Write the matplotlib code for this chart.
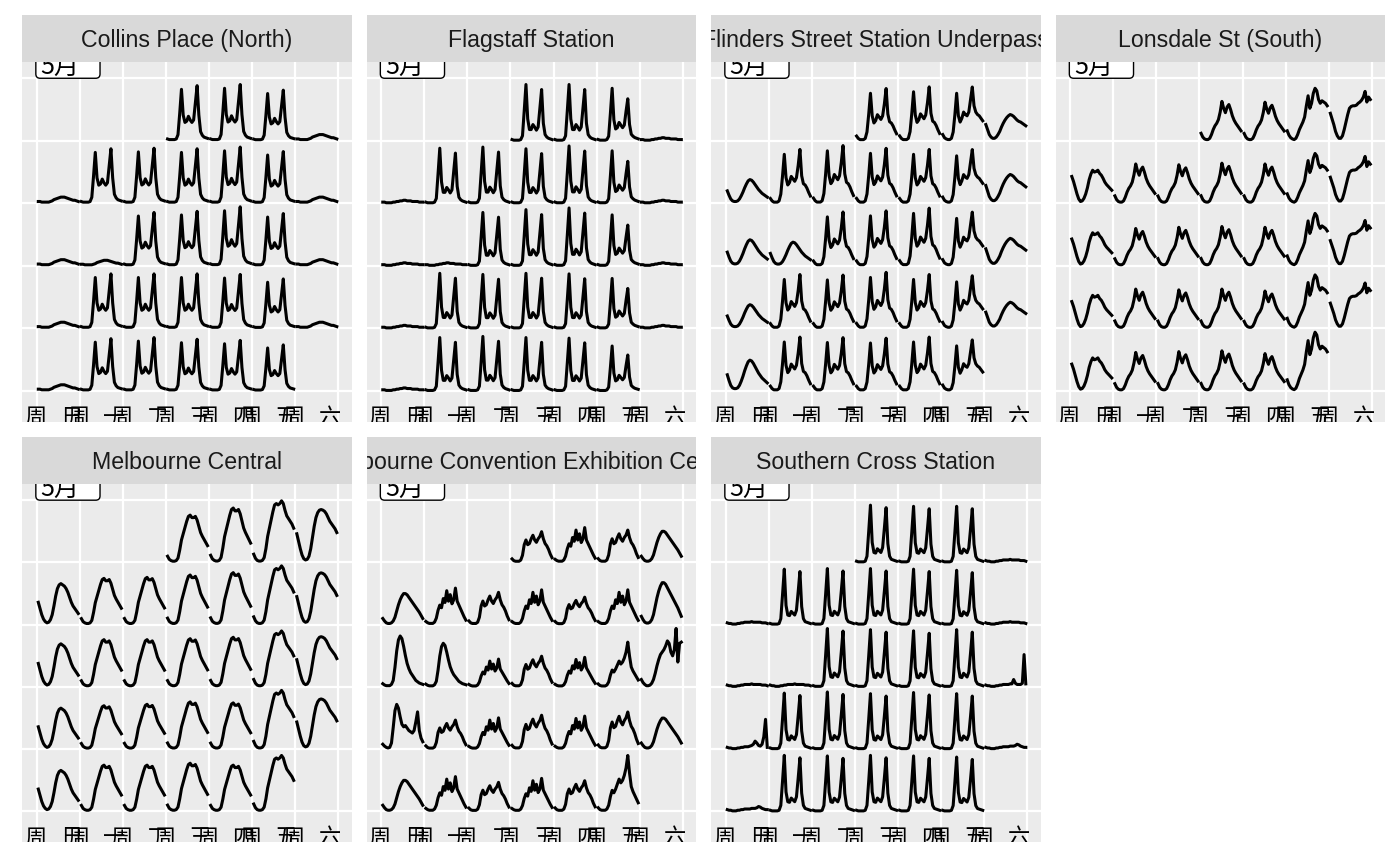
import matplotlib

matplotlib.use("Agg")
import matplotlib.pyplot as plt
import numpy as np
import pandas as pd
from matplotlib.patches import FancyBboxPatch

plt.rcParams["font.family"] = ["Liberation Sans", "Noto Sans CJK SC", "DejaVu Sans"]

# 2019年5月，每天24小时
MAY_DATES = pd.date_range("2019-05-01", "2019-05-31", freq="D")
HOURS = np.arange(24)
WEEKDAY_LABELS = ["周日", "周一", "周二", "周三", "周四", "周五", "周六"]
MONTH_LABEL = "5月"

SENSORS = [
    "Collins Place (North)",
    "Flagstaff Station",
    "Flinders Street Station Underpass",
    "Lonsdale St (South)",
    "Melbourne Central",
    "Melbourne Convention Exhibition Centre",
    "Southern Cross Station",
]

# 每个传感器的小时曲线（相对格子高度）
COLLINS_WORK = [0.03, 0.02, 0.02, 0.02, 0.02, 0.03, 0.10, 0.45, 0.84, 0.42, 0.30, 0.32,
                0.40, 0.34, 0.30, 0.34, 0.62, 0.90, 0.42, 0.15, 0.09, 0.06, 0.05, 0.04]
COLLINS_REST = [0.03, 0.03, 0.02, 0.02, 0.02, 0.02, 0.02, 0.03, 0.04, 0.06, 0.07, 0.08,
                0.09, 0.10, 0.10, 0.10, 0.09, 0.08, 0.07, 0.06, 0.05, 0.05, 0.04, 0.03]

FLAG_WORK = [0.02, 0.01, 0.01, 0.01, 0.01, 0.02, 0.08, 0.48, 0.90, 0.35, 0.18, 0.18,
             0.26, 0.22, 0.17, 0.22, 0.52, 0.82, 0.28, 0.10, 0.06, 0.04, 0.03, 0.02]
FLAG_FRI = [0.02, 0.01, 0.01, 0.01, 0.01, 0.02, 0.07, 0.42, 0.80, 0.32, 0.18, 0.20,
            0.28, 0.24, 0.20, 0.24, 0.45, 0.64, 0.25, 0.10, 0.07, 0.05, 0.04, 0.03]
FLAG_REST = [0.02, 0.02, 0.01, 0.01, 0.01, 0.01, 0.02, 0.02, 0.03, 0.03, 0.04, 0.04,
             0.05, 0.05, 0.04, 0.04, 0.04, 0.03, 0.03, 0.03, 0.03, 0.02, 0.02, 0.02]

FLINDERS_WORK = [0.08, 0.04, 0.02, 0.02, 0.02, 0.04, 0.15, 0.45, 0.80, 0.42, 0.30, 0.34,
                 0.44, 0.40, 0.36, 0.42, 0.62, 0.88, 0.45, 0.32, 0.30, 0.25, 0.18, 0.12]
FLINDERS_FRI = [0.10, 0.05, 0.03, 0.02, 0.02, 0.04, 0.14, 0.42, 0.76, 0.40, 0.30, 0.36,
                0.46, 0.42, 0.40, 0.46, 0.66, 0.86, 0.56, 0.46, 0.42, 0.40, 0.36, 0.32]
FLINDERS_SAT = [0.26, 0.18, 0.10, 0.06, 0.04, 0.04, 0.06, 0.10, 0.15, 0.22, 0.28, 0.33,
                0.37, 0.40, 0.42, 0.41, 0.39, 0.36, 0.33, 0.31, 0.30, 0.28, 0.26, 0.24]
FLINDERS_SUN = [0.20, 0.13, 0.07, 0.04, 0.03, 0.03, 0.04, 0.07, 0.12, 0.18, 0.25, 0.31,
                0.36, 0.38, 0.37, 0.34, 0.30, 0.26, 0.22, 0.19, 0.16, 0.14, 0.12, 0.10]

LONSDALE_WORK = [0.12, 0.06, 0.03, 0.02, 0.02, 0.04, 0.10, 0.18, 0.24, 0.28, 0.34, 0.46,
                 0.63, 0.52, 0.45, 0.54, 0.58, 0.50, 0.40, 0.33, 0.28, 0.24, 0.20, 0.16]
LONSDALE_FRI = [0.16, 0.09, 0.05, 0.03, 0.02, 0.04, 0.10, 0.18, 0.24, 0.30, 0.38, 0.56,
                0.72, 0.52, 0.60, 0.76, 0.84, 0.80, 0.66, 0.60, 0.64, 0.62, 0.60, 0.56]
LONSDALE_SAT = [0.44, 0.35, 0.26, 0.15, 0.08, 0.04, 0.04, 0.08, 0.18, 0.30, 0.42, 0.52,
                0.55, 0.56, 0.56, 0.57, 0.60, 0.62, 0.65, 0.70, 0.79, 0.62, 0.70, 0.66]
LONSDALE_SUN = [0.43, 0.35, 0.25, 0.15, 0.07, 0.03, 0.04, 0.08, 0.15, 0.25, 0.38, 0.47,
                0.53, 0.50, 0.51, 0.53, 0.48, 0.45, 0.40, 0.34, 0.30, 0.27, 0.24, 0.21]

MELB_WORK = [0.10, 0.05, 0.03, 0.02, 0.02, 0.03, 0.07, 0.20, 0.36, 0.46, 0.56, 0.66,
             0.74, 0.76, 0.72, 0.72, 0.74, 0.68, 0.58, 0.48, 0.42, 0.37, 0.32, 0.27]
MELB_FRI = [0.12, 0.06, 0.03, 0.02, 0.02, 0.03, 0.07, 0.20, 0.38, 0.50, 0.62, 0.74,
            0.84, 0.86, 0.84, 0.86, 0.90, 0.86, 0.76, 0.68, 0.64, 0.60, 0.56, 0.50]
MELB_SAT = [0.46, 0.34, 0.22, 0.12, 0.06, 0.04, 0.05, 0.10, 0.22, 0.40, 0.58, 0.72,
            0.80, 0.84, 0.85, 0.84, 0.82, 0.78, 0.72, 0.66, 0.62, 0.58, 0.54, 0.48]
MELB_SUN = [0.36, 0.26, 0.16, 0.09, 0.05, 0.03, 0.04, 0.08, 0.16, 0.30, 0.46, 0.58,
            0.64, 0.66, 0.64, 0.62, 0.58, 0.52, 0.44, 0.36, 0.30, 0.26, 0.22, 0.18]

CONV_WORK = [0.06, 0.03, 0.02, 0.02, 0.02, 0.04, 0.12, 0.30, 0.38, 0.30, 0.32, 0.40,
             0.46, 0.38, 0.34, 0.40, 0.44, 0.52, 0.40, 0.32, 0.28, 0.22, 0.14, 0.08]
CONV_WORK2 = [0.05, 0.03, 0.02, 0.02, 0.02, 0.04, 0.10, 0.22, 0.30, 0.26, 0.40, 0.34,
              0.52, 0.36, 0.46, 0.32, 0.38, 0.56, 0.36, 0.30, 0.24, 0.18, 0.12, 0.07]
CONV_REST = [0.10, 0.06, 0.03, 0.02, 0.02, 0.03, 0.06, 0.12, 0.22, 0.32, 0.40, 0.46,
             0.50, 0.50, 0.48, 0.44, 0.40, 0.36, 0.32, 0.28, 0.24, 0.20, 0.15, 0.10]
CONV_EVENT = [0.05, 0.03, 0.02, 0.02, 0.02, 0.04, 0.10, 0.30, 0.55, 0.72, 0.78, 0.74,
              0.62, 0.48, 0.36, 0.28, 0.22, 0.18, 0.14, 0.10, 0.08, 0.06, 0.05, 0.04]
CONV_SAT_EVENT = [0.12, 0.07, 0.04, 0.02, 0.02, 0.03, 0.06, 0.12, 0.22, 0.34, 0.44, 0.52,
                  0.56, 0.60, 0.66, 0.74, 0.70, 0.56, 0.50, 0.60, 0.94, 0.40, 0.70, 0.72]
CONV_SUN_EVENT = [0.08, 0.05, 0.03, 0.02, 0.03, 0.10, 0.35, 0.62, 0.72, 0.66, 0.52, 0.40,
                  0.36, 0.38, 0.34, 0.30, 0.28, 0.26, 0.30, 0.44, 0.60, 0.30, 0.18, 0.12]
CONV_FRI_BIG = [0.06, 0.03, 0.02, 0.02, 0.02, 0.04, 0.10, 0.24, 0.34, 0.30, 0.36, 0.44,
                0.52, 0.46, 0.50, 0.58, 0.70, 0.90, 0.62, 0.40, 0.32, 0.26, 0.20, 0.14]

SC_WORK = [0.02, 0.01, 0.01, 0.01, 0.01, 0.02, 0.10, 0.50, 0.92, 0.32, 0.16, 0.15,
           0.22, 0.19, 0.16, 0.24, 0.55, 0.88, 0.30, 0.10, 0.05, 0.04, 0.03, 0.02]
SC_REST = [0.03, 0.02, 0.02, 0.01, 0.01, 0.01, 0.02, 0.02, 0.03, 0.03, 0.04, 0.04,
           0.04, 0.04, 0.05, 0.04, 0.04, 0.04, 0.04, 0.04, 0.03, 0.03, 0.03, 0.02]
SC_SAT_EVENT = [0.03, 0.02, 0.02, 0.01, 0.01, 0.01, 0.02, 0.02, 0.03, 0.03, 0.04, 0.04,
                0.04, 0.04, 0.05, 0.05, 0.12, 0.06, 0.04, 0.04, 0.04, 0.06, 0.52, 0.05]
SC_SUN_EVENT = [0.03, 0.02, 0.02, 0.01, 0.01, 0.01, 0.02, 0.02, 0.03, 0.03, 0.04, 0.04,
                0.04, 0.05, 0.06, 0.08, 0.13, 0.10, 0.06, 0.05, 0.08, 0.20, 0.48, 0.03]
SC_REST_BUMP = [0.03, 0.02, 0.02, 0.01, 0.01, 0.01, 0.02, 0.02, 0.03, 0.03, 0.04, 0.04,
                0.04, 0.04, 0.05, 0.05, 0.05, 0.06, 0.08, 0.07, 0.05, 0.04, 0.03, 0.03]

# 5月1日到31日每天用的曲线
COLLINS_DAYS = ["W", "W", "W", "R", "R", "W", "W", "W", "W", "W", "R", "R", "R", "W", "W", "W",
                "W", "R", "R", "W", "W", "W", "W", "W", "R", "R", "W", "W", "W", "W", "W"]
COLLINS_SCALE = [0.98, 1.00, 0.90, 1.0, 1.0, 0.97, 0.98, 0.97, 1.00, 0.92, 1.0, 1.0, 0.9, 0.95, 0.97,
                 1.05, 0.93, 1.0, 1.0, 0.97, 0.97, 0.97, 0.96, 0.88, 1.0, 1.0, 0.93, 0.95, 0.92, 0.90, 0.82]

FLAG_DAYS = ["W", "W", "F", "R", "R", "W", "W", "W", "W", "F", "R", "R", "R", "W", "W", "W",
             "F", "R", "R", "W", "W", "W", "W", "F", "R", "R", "W", "W", "W", "W", "F"]
FLAG_SCALE = [1.00, 1.00, 1.05, 1.0, 1.0, 0.98, 1.00, 0.97, 1.02, 1.05, 1.0, 1.0, 1.0, 0.95, 1.00,
              1.03, 1.02, 1.0, 1.0, 0.98, 0.96, 0.98, 0.97, 1.00, 1.0, 1.0, 0.95, 0.97, 0.95, 0.94, 0.90]

FLINDERS_DAYS = ["W", "W", "F", "SAT", "SUN", "W", "W", "W", "W", "F", "SAT", "SUN", "SUN", "W", "W",
                 "W", "F", "SAT", "SUN", "W", "W", "W", "W", "F", "SAT", "SUN", "W", "W", "W", "W", "F"]
FLINDERS_SCALE = [0.95, 0.98, 1.00, 1.0, 1.0, 0.98, 1.05, 1.00, 0.98, 1.00, 1.10, 1.1, 1.0, 0.98, 1.00,
                  1.05, 1.00, 1.05, 1.0, 0.98, 0.97, 1.02, 0.98, 0.98, 1.0, 1.3, 0.98, 0.97, 0.96, 0.98, 0.95]

LONSDALE_DAYS = ["W", "W", "F", "SAT", "SUN", "W", "W", "W", "W", "F", "SAT", "SUN", "W", "W", "W",
                 "W", "F", "SAT", "SUN", "W", "W", "W", "W", "F", "SAT", "SUN", "W", "W", "W", "W", "F"]
LONSDALE_SCALE = [1.00, 0.98, 1.00, 1.0, 1.0, 1.00, 0.98, 1.02, 1.00, 0.95, 0.95, 1.0, 0.95, 0.98, 1.00,
                  0.98, 1.00, 0.92, 1.0, 1.00, 0.98, 1.00, 0.95, 1.02, 0.92, 1.0, 0.98, 1.00, 1.02, 0.95, 1.12]

MELB_DAYS = ["W", "W", "F", "SAT", "SUN", "W", "W", "W", "W", "F", "SAT", "SUN", "W", "W", "W",
             "W", "F", "SAT", "SUN", "W", "W", "W", "W", "F", "SAT", "SUN", "W", "W", "W", "W", "F"]
MELB_SCALE = [1.00, 1.15, 1.10, 1.0, 1.0, 0.98, 1.00, 1.05, 1.10, 1.05, 0.98, 1.05, 1.00, 1.00, 1.02,
              1.05, 1.00, 0.95, 1.0, 0.92, 0.95, 1.00, 0.98, 1.05, 0.95, 1.0, 0.98, 0.98, 1.02, 0.98, 1.00]

CONV_DAYS = ["W", "W2", "W", "R", "R", "W2", "W", "W2", "W", "W2", "R", "E", "E", "W2", "W", "W2",
             "FB", "SE", "SUE", "W", "W2", "W", "W2", "W", "R", "R", "W2", "W", "W2", "W", "FB"]
CONV_SCALE = [0.95, 1.00, 1.00, 1.0, 1.0, 1.05, 1.00, 1.00, 0.85, 1.00, 1.35, 1.05, 0.90, 0.80, 0.95,
              0.85, 0.80, 1.00, 1.0, 0.90, 0.90, 1.05, 0.95, 1.15, 1.00, 1.0, 1.00, 0.90, 0.95, 0.95, 1.00]

SC_DAYS = ["W", "W", "W", "R", "R", "W", "W", "W", "W", "W", "R", "R", "R", "W", "W", "W",
           "W", "SE", "SUE", "W", "W", "W", "W", "W", "RB", "RB", "W", "W", "W", "W", "W"]
SC_SCALE = [1.00, 0.98, 0.98, 1.0, 1.0, 0.97, 0.98, 0.98, 0.97, 0.95, 1.0, 1.0, 1.0, 1.02, 1.00,
            0.98, 1.00, 1.0, 1.0, 0.98, 1.00, 0.97, 0.99, 0.97, 1.0, 1.0, 0.98, 0.97, 0.98, 0.97, 0.95]

PANEL_DATA = [
    ({"W": COLLINS_WORK, "R": COLLINS_REST}, COLLINS_DAYS, COLLINS_SCALE),
    ({"W": FLAG_WORK, "F": FLAG_FRI, "R": FLAG_REST}, FLAG_DAYS, FLAG_SCALE),
    ({"W": FLINDERS_WORK, "F": FLINDERS_FRI, "SAT": FLINDERS_SAT, "SUN": FLINDERS_SUN},
     FLINDERS_DAYS, FLINDERS_SCALE),
    ({"W": LONSDALE_WORK, "F": LONSDALE_FRI, "SAT": LONSDALE_SAT, "SUN": LONSDALE_SUN},
     LONSDALE_DAYS, LONSDALE_SCALE),
    ({"W": MELB_WORK, "F": MELB_FRI, "SAT": MELB_SAT, "SUN": MELB_SUN}, MELB_DAYS, MELB_SCALE),
    ({"W": CONV_WORK, "W2": CONV_WORK2, "R": CONV_REST, "E": CONV_EVENT, "SE": CONV_SAT_EVENT,
      "SUE": CONV_SUN_EVENT, "FB": CONV_FRI_BIG}, CONV_DAYS, CONV_SCALE),
    ({"W": SC_WORK, "R": SC_REST, "SE": SC_SAT_EVENT, "SUE": SC_SUN_EVENT, "RB": SC_REST_BUMP},
     SC_DAYS, SC_SCALE),
]

FIG_W, FIG_H = 1400, 866
PANEL_W, GAP_X, LEFT = 329.5, 15, 22
ROWS_PX = [(15, 62, 421.7), (437, 484, 842)]  # 标签顶, 标签底/面板顶, 面板底
BG = "#EBEBEB"
STRIP = "#D9D9D9"
CJK = ["Noto Sans CJK SC", "DejaVu Sans"]


def px_axes(fig, x0, y0, x1, y1):
    """按像素位置新建坐标轴"""
    return fig.add_axes([x0 / FIG_W, 1 - y1 / FIG_H, (x1 - x0) / FIG_W, (y1 - y0) / FIG_H])


def draw_panel(ax, profiles, day_keys, day_scale):
    """画一个传感器的日历图"""
    ax.set_facecolor(BG)
    ax.set_xlim(-0.341, 7.306)
    ax.set_ylim(-0.49, 5.26)
    for x in range(8):
        ax.axvline(x, color="white", lw=1.6, zorder=0)
    for y in range(6):
        ax.axhline(y, color="white", lw=1.6, zorder=0)

    first_col = (MAY_DATES[0].dayofweek + 1) % 7
    for i, date in enumerate(MAY_DATES):
        col = (date.dayofweek + 1) % 7
        row = (date.day - 1 + first_col) // 7
        xs = col + 0.037 + HOURS / 23 * 0.928
        ys = (4 - row) + np.array(profiles[day_keys[i]]) * day_scale[i]
        ax.plot(xs, ys, color="black", lw=2.2, solid_joinstyle="round", zorder=2)

    # 月份标签（被面板上沿截断）
    box = FancyBboxPatch((-0.02, 5.0), 1.49, 0.6, boxstyle="round,pad=0,rounding_size=0.1",
                         mutation_aspect=0.689, facecolor="white", edgecolor="black",
                         lw=1.0, zorder=3)
    ax.add_patch(box)
    ax.text(0.54, 5.07, MONTH_LABEL, family=CJK, fontsize=18,
            ha="center", va="baseline", clip_on=True, zorder=4)

    # 星期标签（逐字放置，底部被截断）
    for i, label in enumerate(WEEKDAY_LABELS):
        ax.text(i - 0.04, -0.53, label[0], family=CJK, fontsize=16,
                ha="center", va="baseline", clip_on=True, zorder=4)
        ax.text(i + 0.79, -0.53, label[1], family=CJK, fontsize=16,
                ha="center", va="baseline", clip_on=True, zorder=4)

    ax.set_xticks([])
    ax.set_yticks([])
    for s in ax.spines.values():
        s.set_visible(False)


def draw_strip(ax, title):
    ax.set_facecolor(STRIP)
    ax.set_xlim(0, 1)
    ax.set_ylim(0, 1)
    ax.set_xticks([])
    ax.set_yticks([])
    for s in ax.spines.values():
        s.set_visible(False)
    ax.text(0.5, 0.46, title, fontsize=16.7, color="#1A1A1A", ha="center", va="center",
            clip_on=True)


fig = plt.figure(figsize=(FIG_W / 100, FIG_H / 100), dpi=100)
for k, name in enumerate(SENSORS):
    r, c = divmod(k, 4)
    x0 = LEFT + c * (PANEL_W + GAP_X)
    strip_top, panel_top, panel_bottom = ROWS_PX[r]
    draw_strip(px_axes(fig, x0, strip_top, x0 + PANEL_W, panel_top), name)
    profiles, day_keys, day_scale = PANEL_DATA[k]
    draw_panel(px_axes(fig, x0, panel_top, x0 + PANEL_W, panel_bottom), profiles, day_keys, day_scale)

fig.savefig("out.png", dpi=100, facecolor="white")
